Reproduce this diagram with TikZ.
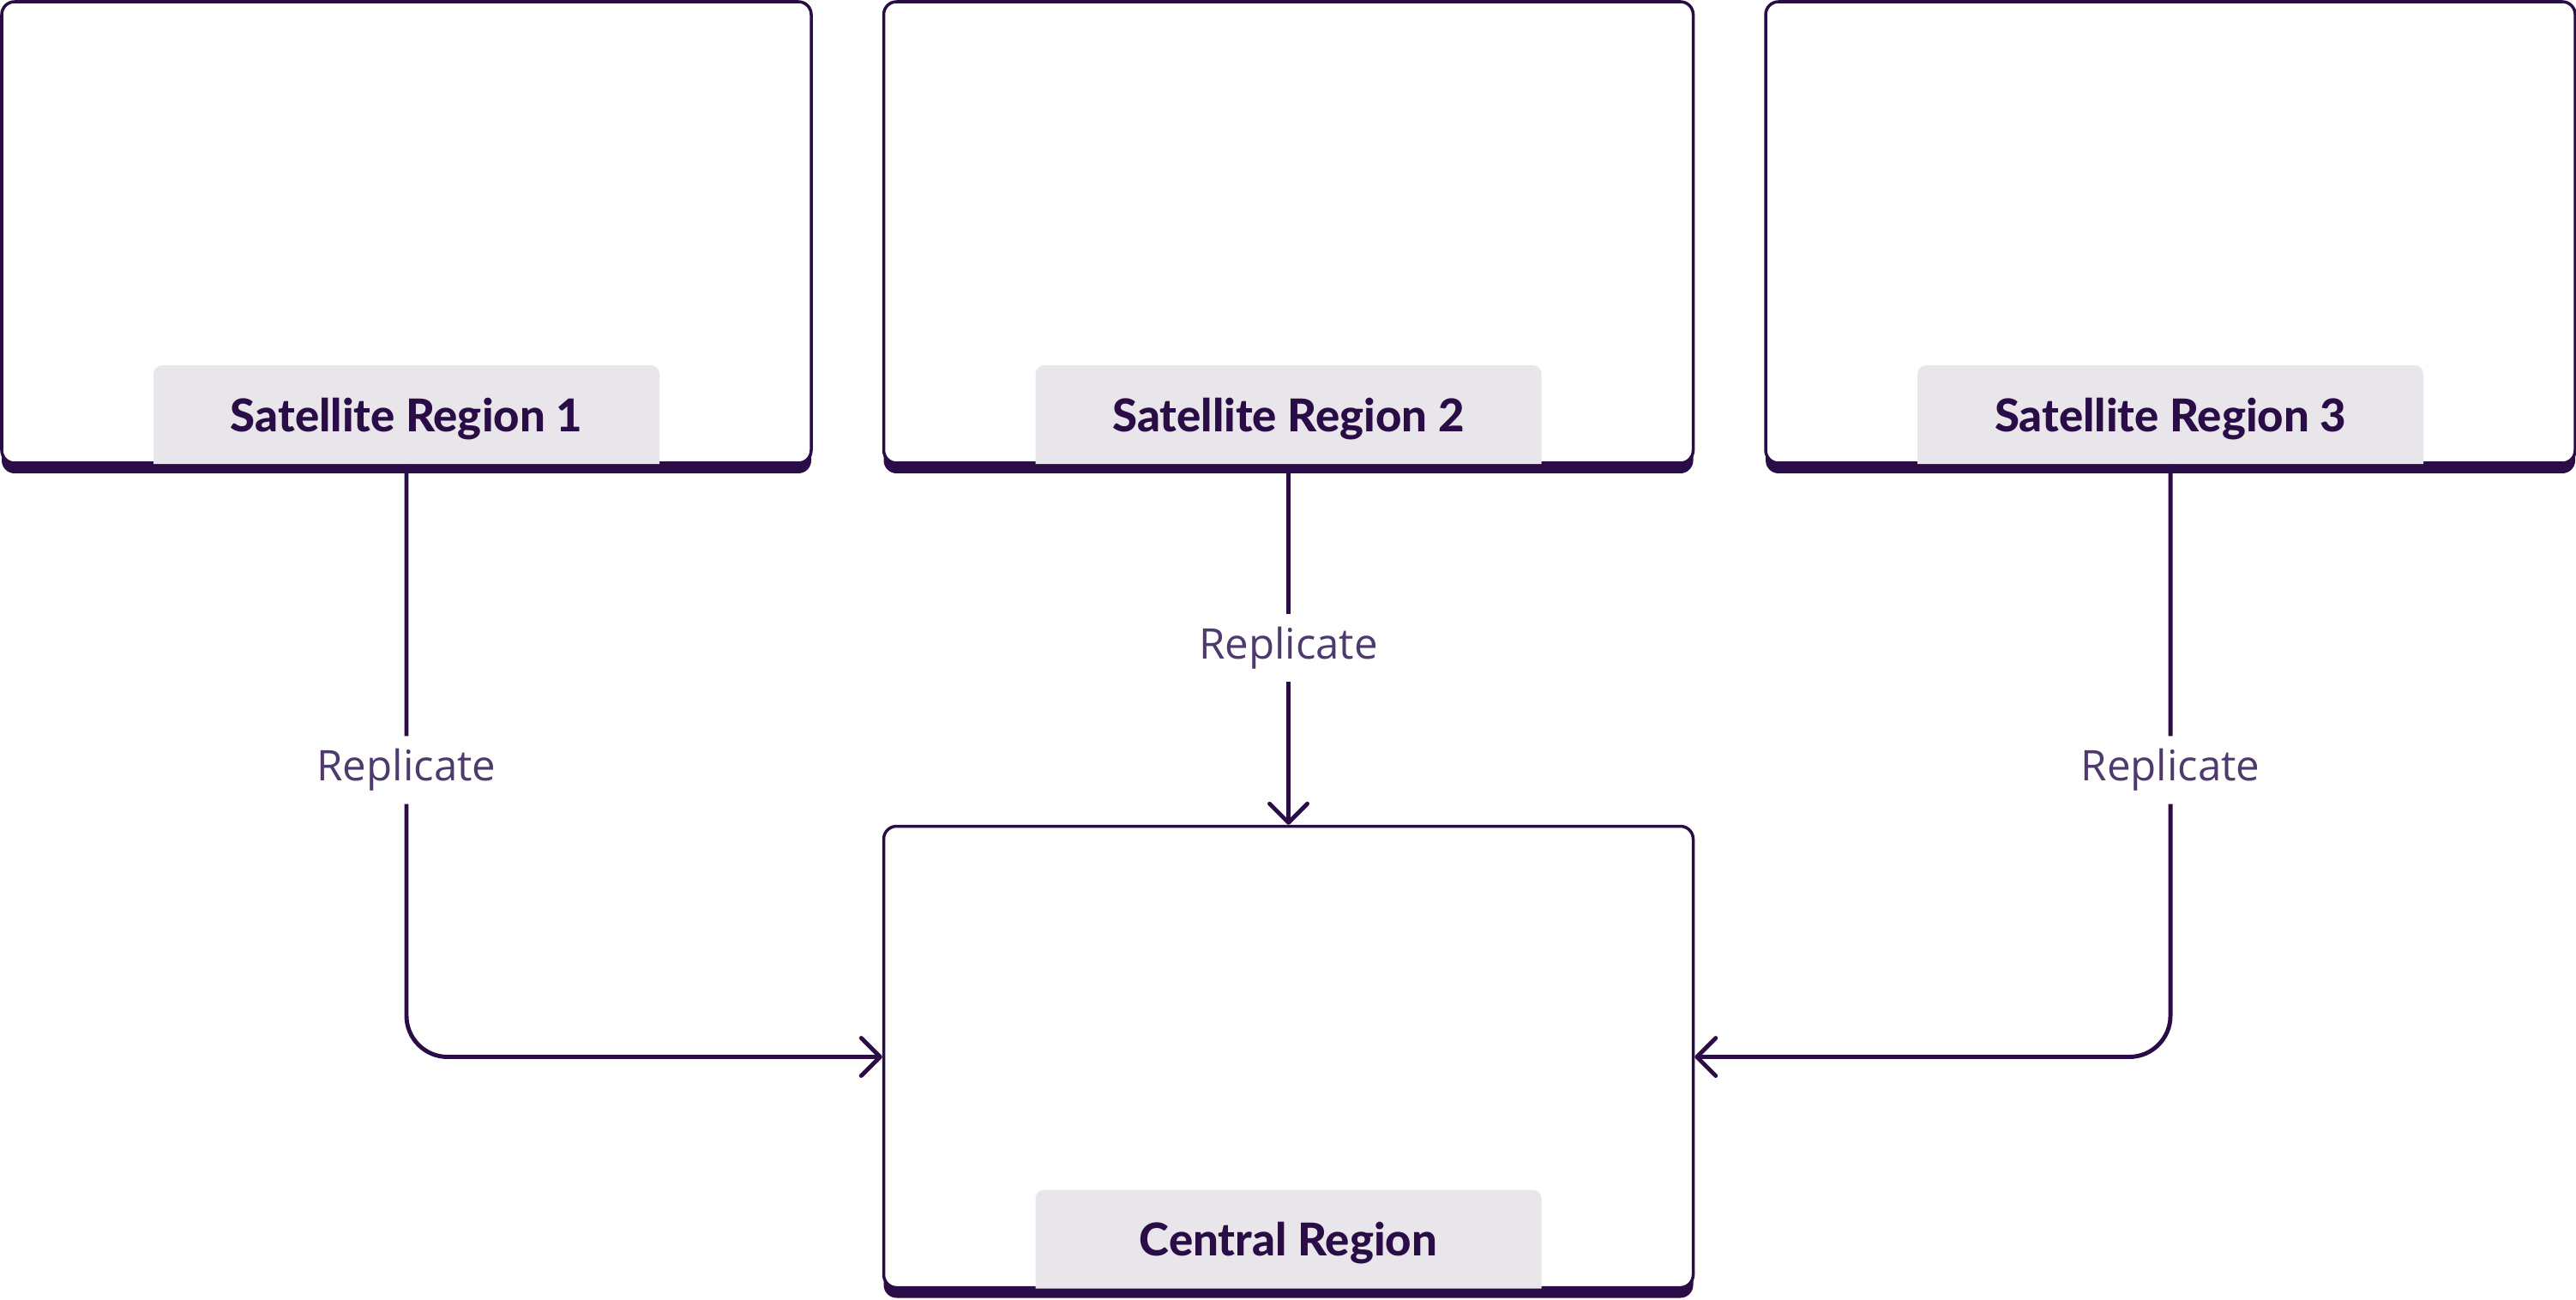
\documentclass[tikz,border=0pt]{standalone}
\usepackage{fontspec}
\setmainfont{Lato}[BoldFont={Lato Heavy}]
\newfontfamily\labelfont{Open Sans}
\usetikzlibrary{arrows.meta, positioning, shadows}
\definecolor{ink}{HTML}{2A0C46}
\definecolor{muted}{HTML}{4E3A6D}
\definecolor{tabgray}{HTML}{E8E6EB}

\begin{document}
\begin{tikzpicture}[
        node distance=4.2cm and 0.81cm,
        region/.style={rectangle, rounded corners=0.15cm, draw=ink, line width=1pt,
                       fill=white, minimum width=9.44cm, minimum height=5.38cm,
                       general shadow={fill=ink, shadow yshift=-0.12cm}},
        tab/.style={rectangle, minimum width=5.9cm, minimum height=1.15cm,
                    inner sep=0pt, anchor=south, text=ink, text depth=0pt,
                    font=\fontsize{15}{18}\selectfont\bfseries,
                    path picture={\fill[tabgray, rounded corners=0.1cm]
                        (path picture bounding box.south west)
                        -- (path picture bounding box.north west)
                        -- (path picture bounding box.north east)
                        -- (path picture bounding box.south east);}},
        arr/.style={-{Straight Barb[length=2.2mm, width=4.4mm, round]},
                    draw=ink, line width=1.4pt},
        lbl/.style={fill=white, text=muted, inner sep=1.5mm, yshift=-0.04cm,
                    font=\labelfont\fontsize{14}{16}\selectfont},
    ]
    \useasboundingbox (0,0) rectangle (30.04,-15.16);

    \node[region] (sat1) at (4.74,-2.71) {};
    \node[region, right=of sat1] (sat2) {};
    \node[region, right=of sat2] (sat3) {};
    \node[region, below=of sat2] (cen) {};

    % name tabs on the bottom edge
    \node[tab] (tab1) at (sat1.south) {Satellite Region 1};
    \node[tab] (tab2) at (sat2.south) {Satellite Region 2};
    \node[tab] (tab3) at (sat3.south) {Satellite Region 3};
    \node[tab] (tabc) at (cen.south)  {Central Region};

    \draw[arr, rounded corners=0.48cm] (sat1.south) |- node[lbl, pos=0.255] {Replicate} (cen.west);
    \draw[arr] (sat2.south) -- node[lbl] {Replicate} (cen.north);
    \draw[arr, rounded corners=0.48cm] (sat3.south) |- node[lbl, pos=0.255] {Replicate} (cen.east);
\end{tikzpicture}
\end{document}
